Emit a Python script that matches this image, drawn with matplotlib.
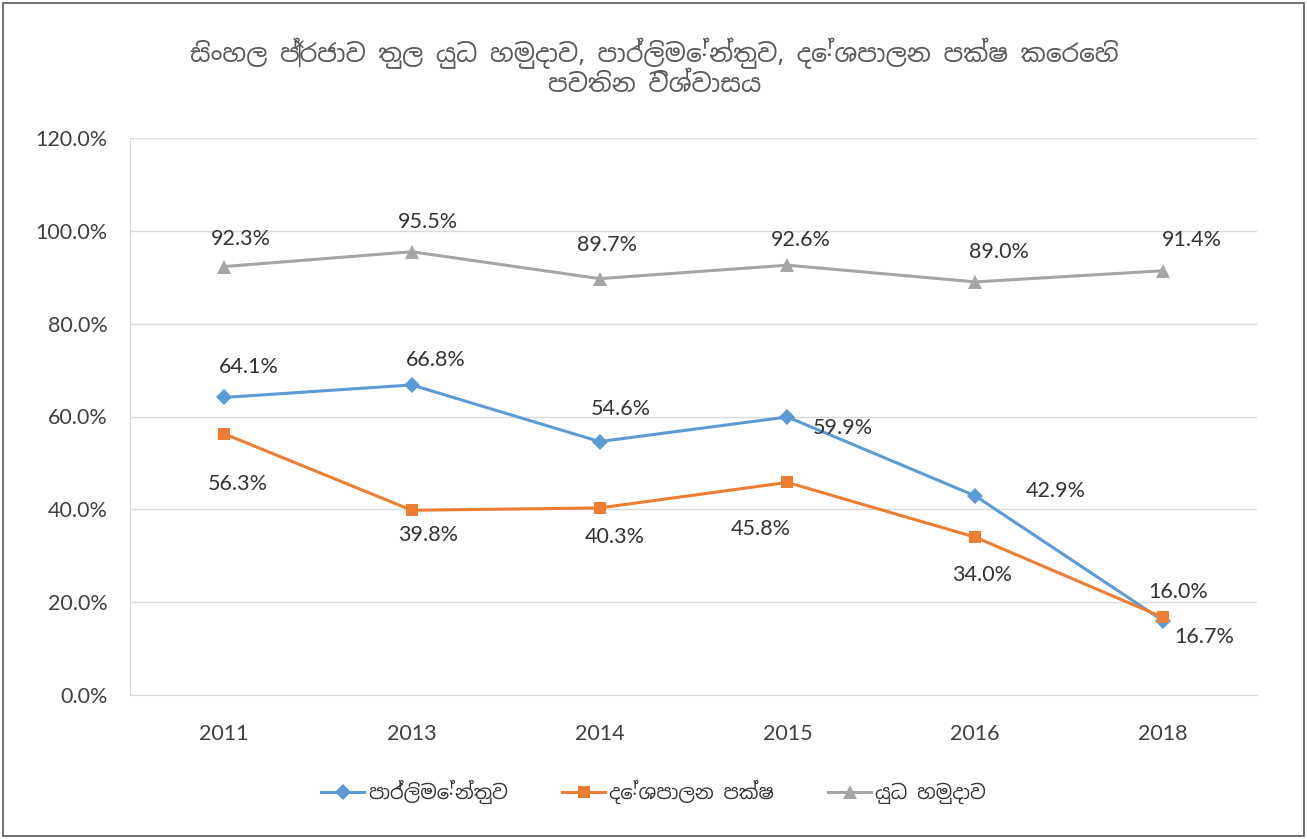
import matplotlib
import matplotlib.pyplot as plt
from matplotlib import font_manager
from matplotlib.patches import Rectangle
from matplotlib.ticker import FuncFormatter

plt.switch_backend("agg")

# Sinhala glyphs: use an installed Sinhala family if there is one
SINHALA = sorted({f.name for f in font_manager.fontManager.ttflist
                  if "Sinhala" in f.name or "Iskoola" in f.name})
SIN_FAMILY = SINHALA[:1] + ["Lato", "DejaVu Sans"]
NUM_FAMILY = ["Lato", "DejaVu Sans"]
matplotlib.rcParams["font.family"] = NUM_FAMILY

# -----------------------------
# data
# -----------------------------
YEARS = ["2011", "2013", "2014", "2015", "2016", "2018"]
PARLIAMENT = [64.1, 66.8, 54.6, 59.9, 42.9, 16.0]
PARTIES = [56.3, 39.8, 40.3, 45.8, 34.0, 16.7]
MILITARY = [92.3, 95.5, 89.7, 92.6, 89.0, 91.4]
SERIES_NAMES = ["පාර්ලිමේන්තුව", "දේශපාලන පක්ෂ", "යුධ හමුදාව"]
TITLE = "සිංහල ප්‍රජාව තුල යුධ හමුදාව, පාර්ලිමේන්තුව, දේශපාලන පක්ෂ කෙරෙහි\nපවතින විශ්වාසය"
Y_TICKS = [0, 20, 40, 60, 80, 100, 120]

# label offsets in pixels (dx, dy up)
OFFSETS = [
    [(25, 30), (24, 25), (21, 33), (55, -11), (81, 5), (15, 29)],
    [(14, -50), (16, -25), (15, -29), (-27, -47), (7, -38), (41, -20)],
    [(17, 28), (16, 30), (7, 34), (13, 25), (24, 30), (29, 31)],
]

STYLES = [
    {"color": "#5B9BD5", "marker": "D", "ms": 8},
    {"color": "#ED7D31", "marker": "s", "ms": 8.5},
    {"color": "#A5A5A5", "marker": "^", "ms": 10},
]

TEXT_COLOR = "#333333"
TICK_COLOR = "#404040"


def main():
    fig = plt.figure(figsize=(13.07, 8.39), dpi=100)
    fig.patch.set_facecolor("white")
    ax = fig.add_axes([130 / 1307, 1 - 695 / 839, 1127 / 1307, 557 / 839])

    x = list(range(len(YEARS)))
    all_series = [PARLIAMENT, PARTIES, MILITARY]
    for vals, name, style, offs in zip(all_series, SERIES_NAMES, STYLES, OFFSETS):
        ax.plot(x, vals, color=style["color"], linewidth=2.2,
                marker=style["marker"], markersize=style["ms"],
                markeredgewidth=0, label=name, zorder=3)
        for xi, v, (dx, dy) in zip(x, vals, offs):
            ax.annotate(f"{v:.1f}%", (xi, v), xytext=(dx, dy),
                        textcoords="offset pixels", ha="center", va="center",
                        fontsize=15.5, color=TEXT_COLOR, zorder=4)

    ax.set_xlim(-0.5, len(YEARS) - 0.5)
    ax.set_ylim(0, 120)
    ax.set_xticks(x)
    ax.set_xticklabels(YEARS)
    ax.set_yticks(Y_TICKS)
    ax.yaxis.set_major_formatter(FuncFormatter(lambda v, _: f"{v:.1f}%"))
    ax.tick_params(axis="both", length=0, labelsize=15.5, colors=TICK_COLOR)
    ax.tick_params(axis="x", pad=21)
    ax.tick_params(axis="y", pad=16)

    ax.grid(axis="y", color="#D9D9D9", linewidth=1.0)
    ax.set_axisbelow(True)
    for side in ["top", "right"]:
        ax.spines[side].set_visible(False)
    ax.spines["left"].set_color("#D9D9D9")
    ax.spines["bottom"].set_color("#D9D9D9")

    fig.text(0.501, 1 - 68 / 839, TITLE, ha="center", va="center",
             fontsize=18, color="#595959", linespacing=1.2, family=SIN_FAMILY)

    fig.legend(loc="center", bbox_to_anchor=(0.5, 1 - 792 / 839), ncol=3,
               frameon=False, prop={"family": SIN_FAMILY, "size": 14},
               handlelength=2.2, columnspacing=2.8, handletextpad=0.2,
               labelcolor=TEXT_COLOR)

    fig.patches.append(Rectangle((0.002, 0.003), 0.996, 0.994,
                                 transform=fig.transFigure, fill=False,
                                 edgecolor="#595959", linewidth=1.2))

    fig.savefig("out.png", dpi=100, facecolor="white")
    plt.close(fig)


if __name__ == "__main__":
    main()
